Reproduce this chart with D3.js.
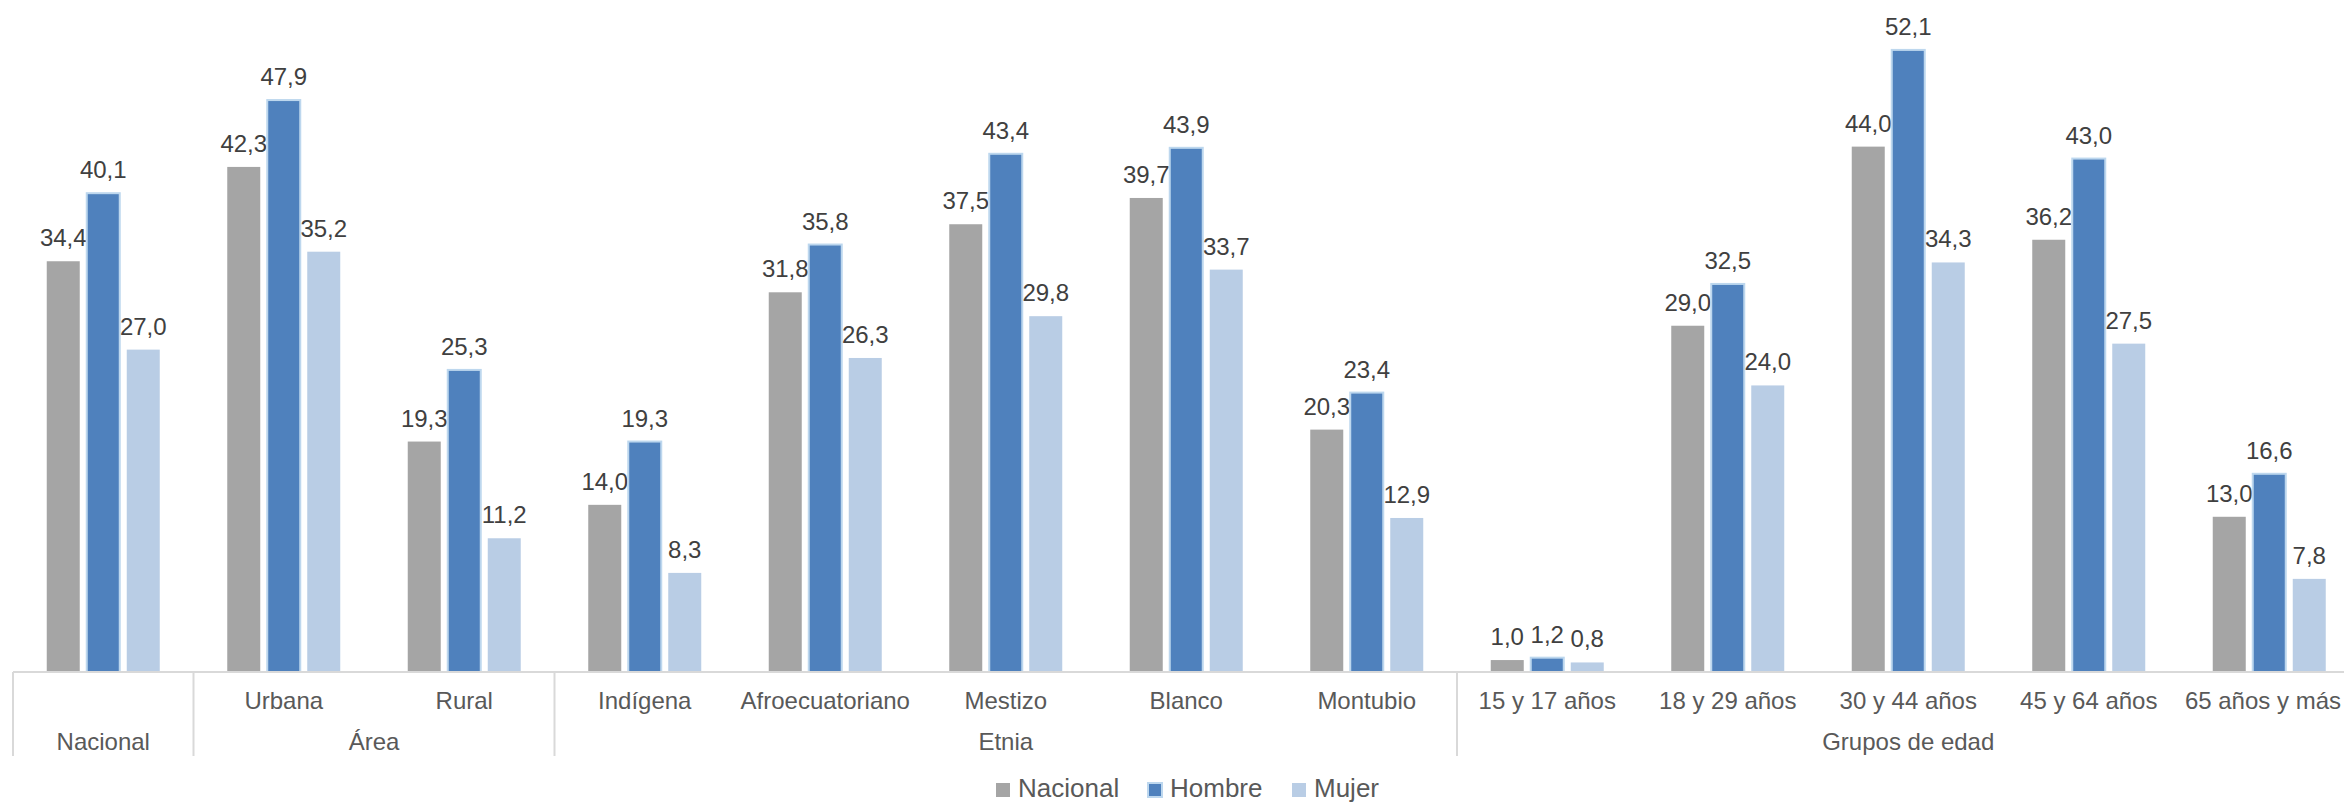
<!DOCTYPE html>
<html>
<head>
<meta charset="utf-8">
<script src="https://cdn.jsdelivr.net/npm/d3@7"></script>
<style>
  html, body { margin: 0; padding: 0; background: #ffffff; }
  svg { display: block; }
  text { font-family: "Century Gothic", "Liberation Sans", Arial, sans-serif; }
</style>
</head>
<body>
<svg id="chart" width="2344" height="802"></svg>
<script>
// ---- data ----
const categories = ["Nacional", "Urbana", "Rural", "Indígena", "Afroecuatoriano", "Mestizo", "Blanco", "Montubio",
  "15 y 17 años", "18 y 29 años", "30 y 44 años", "45 y 64 años", "65 años y más"];
const groups = [
  { name: "Nacional", from: 0, to: 0, single: true },
  { name: "Área", from: 1, to: 2 },
  { name: "Etnia", from: 3, to: 7 },
  { name: "Grupos de edad", from: 8, to: 12 }
];
const seriesNames = ["Nacional", "Hombre", "Mujer"];
const nacional = [34.4, 42.3, 19.3, 14.0, 31.8, 37.5, 39.7, 20.3, 1.0, 29.0, 44.0, 36.2, 13.0];
const hombre   = [40.1, 47.9, 25.3, 19.3, 35.8, 43.4, 43.9, 23.4, 1.2, 32.5, 52.1, 43.0, 16.6];
const mujer    = [27.0, 35.2, 11.2, 8.3, 26.3, 29.8, 33.7, 12.9, 0.8, 24.0, 34.3, 27.5, 7.8];
const seriesValues = [nacional, hombre, mujer];

const colors = ["#A5A5A5", "#4F81BD", "#B9CDE5"];
const strokes = ["none", "#BDD7EE", "none"];

const W = 2344;
const svg = d3.select("#chart");
const axisY = 672;
const x = d3.scaleBand().domain(categories).range([13, 13 + 13 * 180.5]).padding(0);
const y = d3.scaleLinear().domain([0, 56.28]).range([axisY, 0]);
const xs = d3.scalePoint().domain(seriesNames).range([-40, 40]);
const barW = 33;
const fmt = v => d3.format(".1f")(v).replace(".", ",");

// bars
seriesNames.forEach((s, si) => {
  const g = svg.append("g");
  g.selectAll("rect").data(categories).join("rect")
    .attr("x", (c) => x(c) + x.bandwidth() / 2 + xs(s) - barW / 2)
    .attr("y", (c, i) => y(seriesValues[si][i]))
    .attr("width", barW)
    .attr("height", (c, i) => axisY - y(seriesValues[si][i]))
    .attr("fill", colors[si])
    .attr("stroke", strokes[si])
    .attr("stroke-width", strokes[si] === "none" ? 0 : 2);
  g.selectAll("text").data(categories).join("text")
    .attr("x", (c) => x(c) + x.bandwidth() / 2 + xs(s))
    .attr("y", (c, i) => y(seriesValues[si][i]) - 15)
    .attr("text-anchor", "middle")
    .attr("font-size", 24)
    .attr("fill", "#404040")
    .text((c, i) => fmt(seriesValues[si][i]));
});

// axis line
svg.append("line").attr("x1", 13).attr("x2", W).attr("y1", axisY).attr("y2", axisY)
  .attr("stroke", "#D9D9D9").attr("stroke-width", 2);

// separators
const sepX = [x(categories[0])];
groups.forEach(gr => sepX.push(x(categories[gr.to]) + x.bandwidth()));
svg.selectAll("line.sep").data(sepX).join("line").attr("class", "sep")
  .attr("x1", d => d).attr("x2", d => d).attr("y1", axisY).attr("y2", 756)
  .attr("stroke", "#D9D9D9").attr("stroke-width", 2);

// category labels (kept inside the picture, as the reference does)
svg.selectAll("text.cat").data(categories.filter((c, i) => i > 0)).join("text").attr("class", "cat")
  .attr("x", c => x(c) + x.bandwidth() / 2)
  .attr("y", 709)
  .attr("text-anchor", "middle").attr("font-size", 24).attr("fill", "#595959")
  .text(c => c)
  .each(function() {
    const len = this.getComputedTextLength();
    const cx = +this.getAttribute("x");
    if (cx + len / 2 > W - 3) this.setAttribute("x", W - 3 - len / 2);
  });

// group labels
svg.selectAll("text.grp").data(groups).join("text").attr("class", "grp")
  .attr("x", gr => (x(categories[gr.from]) + x(categories[gr.to]) + x.bandwidth()) / 2)
  .attr("y", 750)
  .attr("text-anchor", "middle").attr("font-size", 24).attr("fill", "#595959")
  .text(gr => gr.name);

// legend
const legendX = [996, 1148, 1292];
const lg = svg.append("g");
seriesNames.forEach((s, si) => {
  lg.append("rect").attr("x", legendX[si]).attr("y", 783).attr("width", 14).attr("height", 14)
    .attr("fill", colors[si]).attr("stroke", strokes[si]).attr("stroke-width", strokes[si] === "none" ? 0 : 2);
  lg.append("text").attr("x", legendX[si] + 22).attr("y", 797)
    .attr("font-size", 26).attr("fill", "#595959").text(s);
});
</script>
</body>
</html>
